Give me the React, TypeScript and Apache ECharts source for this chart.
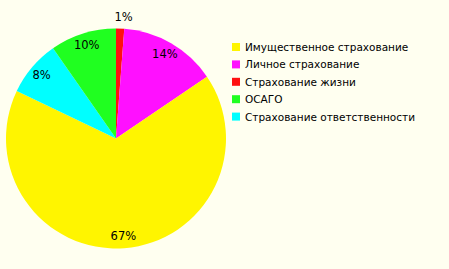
import React, { useEffect, useRef } from "react";
import * as echarts from "echarts";

const categories = [
  "Имущественное страхование",
  "Личное страхование",
  "Страхование жизни",
  "ОСАГО",
  "Страхование ответственности",
];
const values = [66.6, 14.3, 1.2, 9.7, 8.2];
const colors = ["#FFF500", "#FF10FF", "#FF1010", "#20FF20", "#00FFFF"];
// clockwise order from 12 o'clock
const drawOrder = [2, 1, 0, 4, 3];

export default function App() {
  const ref = useRef<HTMLDivElement>(null);
  useEffect(() => {
    if (!ref.current) return;
    const chart = echarts.init(ref.current, undefined, { renderer: "svg" });
    const data = drawOrder.map((i) => ({
      name: categories[i],
      value: values[i],
      itemStyle: { color: colors[i] },
    }));
    const total = values.reduce((a, b) => a + b, 0);
    const fmt = (p: any) => Math.round((p.value / total) * 100) + "%";
    const lfont = { fontFamily: "DejaVu Sans", fontSize: 11.5, color: "#000" };
    const cx = 116, cy = 138.5, R = 110;
    chart.setOption({
      animation: false,
      backgroundColor: "#FFFFF0",
      legend: {
        orient: "vertical",
        left: 227,
        top: 35,
        data: categories,
        icon: "rect",
        itemWidth: 8,
        itemHeight: 8,
        itemGap: 3.4,
        itemTextGap: 6,
        textStyle: { fontFamily: "DejaVu Sans", fontSize: 10.5, color: "#000", lineHeight: 14 },
        selectedMode: false,
      },
      series: [
        {
          type: "pie",
          center: [cx, cy],
          radius: [0, R],
          startAngle: 90,
          clockwise: true,
          data,
          label: { show: false },
          labelLine: { show: false },
          silent: true,
        },
        {
          type: "pie",
          center: [cx, cy],
          radius: [R * 0.72, R],
          startAngle: 90,
          clockwise: true,
          data: data.map((d) => ({
            ...d,
            itemStyle: { color: "transparent" },
            label: { show: d.value >= 3 },
          })),
          label: { show: true, position: "inside", formatter: fmt, ...lfont },
          labelLine: { show: false },
          silent: true,
        },
        {
          type: "pie",
          center: [cx, cy],
          radius: [R, R * 1.15],
          startAngle: 90,
          clockwise: true,
          data: data.map((d) => ({
            ...d,
            itemStyle: { color: "transparent" },
            label: { show: d.value < 3 },
          })),
          label: {
            show: true,
            position: "inside",
            formatter: fmt,
            padding: [8, 0, 0, 6],
            ...lfont,
          },
          labelLine: { show: false },
          silent: true,
        },
      ],
    });
    return () => chart.dispose();
  }, []);
  return (
    <div
      ref={ref}
      style={{ position: "fixed", left: 0, top: 0, width: 449, height: 269 }}
    />
  );
}
